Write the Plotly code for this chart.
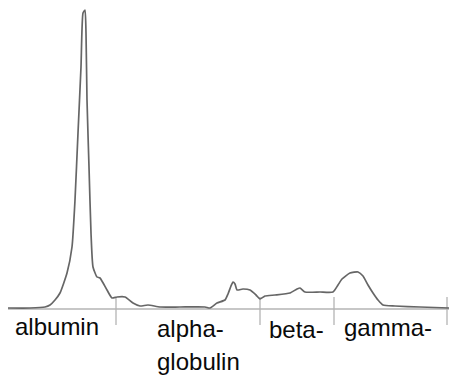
import plotly.graph_objects as go

# Densitometer scan of a serum protein electrophoresis strip
position = [8, 30, 45, 50, 55, 60, 67, 72, 75, 78, 81, 83, 85, 86, 87, 89, 91, 93, 97, 100,
            107, 112, 117, 125, 133, 140, 148, 160, 180, 205, 210, 217, 225, 228, 231, 233, 235, 237,
            243, 250, 256, 260, 265, 275, 290, 297, 300, 305, 320, 333, 338, 342, 350, 358,
            363, 368, 373, 378, 383, 395, 420, 449]
intensity = [1, 1, 2, 4, 9, 16, 36, 62, 109, 176, 242, 296, 299, 276, 209, 142, 76, 42, 32, 31,
             19, 11, 12, 12, 6, 3, 4, 2, 2, 2, 1, 6, 9, 15, 23, 27, 25, 19,
             20, 19, 14, 10, 13, 14, 16, 20, 21, 17, 17, 17, 24, 30, 36, 37,
             33, 24, 16, 9, 4, 3, 2, 1]

# Fraction boundaries along the strip and the fraction names
boundaries = [116, 260, 334, 447]
labels = ["albumin", "alpha-", "globulin", "beta-", "gamma-"]
label_x = [13, 155, 155, 267, 342]
label_y = [-17, -19, -52, -20, -18]

fig = go.Figure()
fig.add_trace(go.Scatter(
    x=position, y=intensity, mode="lines",
    line=dict(color="#666666", width=1.7, shape="spline", smoothing=0.5),
    hoverinfo="skip", showlegend=False,
))

# baseline
fig.add_shape(type="line", x0=8, x1=449, y0=0, y1=0,
              line=dict(color="#b4b4b4", width=1.5), layer="below")
# fraction dividers
for b in boundaries:
    fig.add_shape(type="line", x0=b, x1=b, y0=12, y1=-16,
                  line=dict(color="#b4b4b4", width=1.3), layer="below")

for txt, x, y in zip(labels, label_x, label_y):
    fig.add_annotation(x=x, y=y, text=txt, showarrow=False, xanchor="left", yanchor="middle",
                       font=dict(family="Liberation Sans, Arial, sans-serif", size=24, color="#0a0a0a"))

fig.update_layout(
    width=449, height=378, margin=dict(l=0, r=0, t=0, b=0),
    paper_bgcolor="white", plot_bgcolor="white",
    xaxis=dict(range=[0, 449], visible=False, fixedrange=True),
    yaxis=dict(range=[-69, 309], visible=False, fixedrange=True),
)
fig.write_html("out.html")
